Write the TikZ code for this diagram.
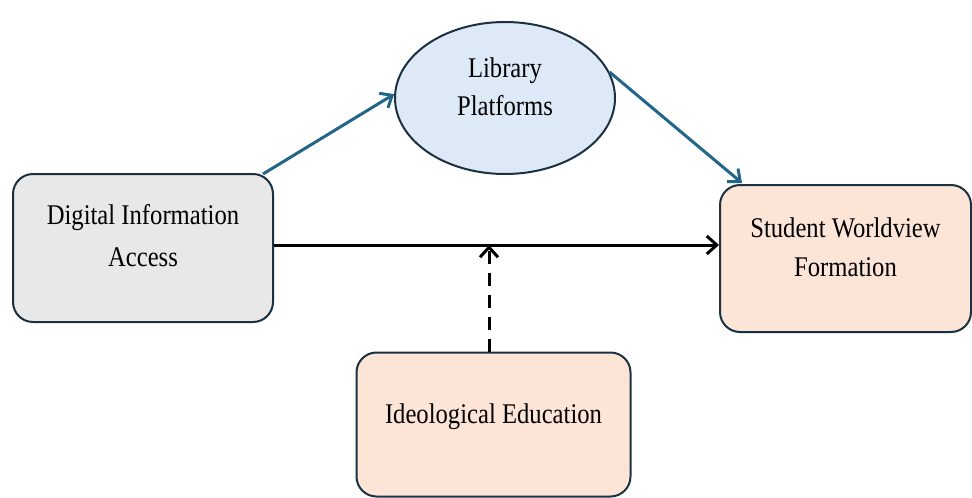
\documentclass[tikz,border=0pt]{standalone}
\usepackage{fontspec}
\setmainfont{Liberation Serif}[FakeStretch=0.865]
\usetikzlibrary{shapes.geometric,arrows.meta,calc}
\definecolor{boxline}{HTML}{1B3142}
\definecolor{grayfill}{HTML}{E8E8E8}
\definecolor{bluefill}{HTML}{DDE9F6}
\definecolor{peachfill}{HTML}{FCE4D7}
\definecolor{arrowblue}{HTML}{21658A}
\tikzset{
  roundbox/.style={draw=boxline, line width=2pt, rounded corners=20pt, rectangle, inner sep=0pt},
  ovalbox/.style={draw=boxline, line width=2pt, ellipse, inner sep=0pt},
  label text/.style={font=\fontsize{28.5pt}{40pt}\selectfont, text=black, inner sep=0pt, align=center},
  bluearrow/.style={draw=arrowblue, line width=3pt, -{Straight Barb[length=10pt,width=17pt]}},
  blackarrow/.style={draw=black, line width=3pt, -{Straight Barb[length=10pt,width=18pt]}},
}
\begin{document}
\begin{tikzpicture}[x=1pt,y=-1pt]
\useasboundingbox (0,0) rectangle (972,498);
% boxes
\node[roundbox, fill=grayfill, minimum width=260pt, minimum height=148pt] (dia) at (143,248) {};
\node[ovalbox, fill=bluefill, minimum width=220pt, minimum height=152pt] (lib) at (505,98) {};
\node[roundbox, fill=peachfill, minimum width=251pt, minimum height=147pt] (swf) at (845.5,258.5) {};
\node[roundbox, fill=peachfill, minimum width=274pt, minimum height=144pt] (ide) at (493.5,424.5) {};
% texts
\node[label text, font=\fontsize{28.5pt}{42pt}\selectfont] (diat) at ([yshift=12pt]dia.center) {Digital Information\\Access};
\node[label text, font=\fontsize{28.5pt}{38pt}\selectfont] (libt) at ([yshift=11.3pt]lib.center) {Library\\Platforms};
\node[label text, font=\fontsize{28.5pt}{39pt}\selectfont] (swft) at ([yshift=11.7pt]swf.center) {Student Worldview\\Formation};
\node[label text] (idet) at ([yshift=8pt]ide.center) {Ideological Education};
% connectors
\coordinate (m) at (489,245);
\draw[bluearrow] ([xshift=-11pt,yshift=-1pt]dia.north east) -- (lib.178);
\draw[bluearrow] (lib.14) -- ([xshift=23pt,yshift=1pt]swf.north west);
\draw[blackarrow] (dia.east |- m) -- (swf.west |- m);
\draw[blackarrow, dash pattern=on 13pt off 9pt] (ide.north -| m) -- (m);
\end{tikzpicture}
\end{document}
